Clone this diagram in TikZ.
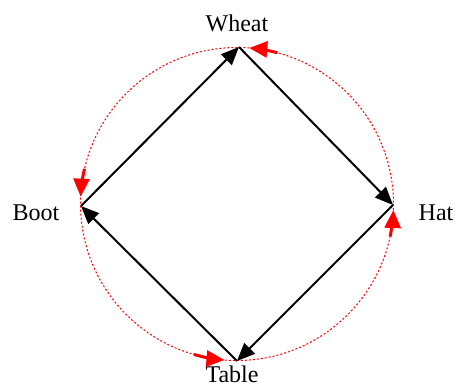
\documentclass[tikz,border=0pt]{standalone}
\usepackage{fontspec}
\setmainfont{Liberation Serif}
\usetikzlibrary{arrows.meta}
\tikzset{
  edge/.style={line width=1pt, -{Triangle[length=9pt,width=7.5pt]}},
  ring/.style={red, line width=0.5pt, dash pattern=on 1pt off 1pt},
  ringtip/.style={red, line width=1.5pt, -{Triangle[length=9pt,width=8pt]}},
  vlabel/.style={font=\fontsize{12}{14}\selectfont, anchor=base}
}
\begin{document}
\begin{tikzpicture}[x=0.5pt, y=-0.5pt]
  \useasboundingbox (0,0) rectangle (457,386);

  % corners of the square
  \coordinate (c) at (237,204);
  \coordinate (wheat) at (239,47);
  \coordinate (hat)   at (393,205);
  \coordinate (table) at (237,361);
  \coordinate (boot)  at (81,206);

  % labels
  \node[vlabel] (lwheat) at (237,31)  {Wheat};
  \node[vlabel] (lhat)   at (436,220) {Hat};
  \node[vlabel] (ltable) at (232,382) {Table};
  \node[vlabel] (lboot)  at (36,220)  {Boot};

  % dotted circle and its arrows
  \draw[ring] (c) circle[radius=156.5];
  \draw[ringtip] (c) ++(-75:156.5)   arc[start angle=-75,   end angle=-85.5,  radius=156.5];
  \draw[ringtip] (c) ++(-167:156.5)  arc[start angle=-167,  end angle=-177.3, radius=156.5];
  \draw[ringtip] (c) ++(106:156.5)   arc[start angle=106,   end angle=94.6,   radius=156.5];
  \draw[ringtip] (c) ++(12:156.5)    arc[start angle=12,    end angle=2.2,    radius=156.5];

  % square
  \draw[edge] (wheat) -- (hat);
  \draw[edge] (hat) -- (table);
  \draw[edge] (table) -- (boot);
  \draw[edge] (boot) -- (wheat);
\end{tikzpicture}
\end{document}
